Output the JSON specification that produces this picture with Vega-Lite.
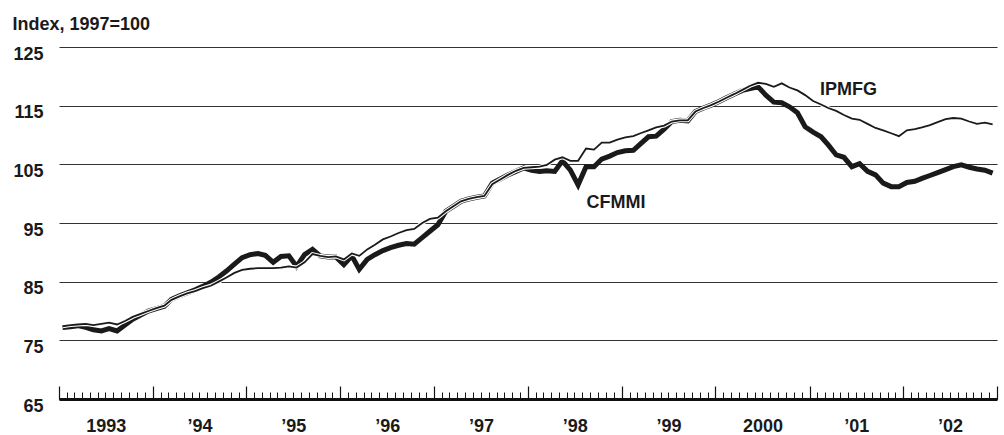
{
  "$schema": "https://vega.github.io/schema/vega-lite/v6.json",
  "autosize": "none",
  "width": 938,
  "height": 352,
  "padding": {"left": 59, "top": 47, "right": 7, "bottom": 36},
  "background": "white",
  "config": {"view": {"stroke": null}, "font": "Liberation Sans"},
  "data": {"values": [
    {"date":"1993-01-15T00:00:00","CFMMI":77.2,"IPMFG":77.4},{"date":"1993-02-15T00:00:00","CFMMI":77.3,"IPMFG":77.6},{"date":"1993-03-15T00:00:00","CFMMI":77.5,"IPMFG":77.7},{"date":"1993-04-15T00:00:00","CFMMI":77.2,"IPMFG":77.8},{"date":"1993-05-15T00:00:00","CFMMI":76.8,"IPMFG":77.6},{"date":"1993-06-15T00:00:00","CFMMI":76.6,"IPMFG":77.8},{"date":"1993-07-15T00:00:00","CFMMI":77.0,"IPMFG":78.0},{"date":"1993-08-15T00:00:00","CFMMI":76.6,"IPMFG":77.7},{"date":"1993-09-15T00:00:00","CFMMI":77.6,"IPMFG":78.3},{"date":"1993-10-15T00:00:00","CFMMI":78.6,"IPMFG":79.0},{"date":"1993-11-15T00:00:00","CFMMI":79.3,"IPMFG":79.5},{"date":"1993-12-15T00:00:00","CFMMI":80.0,"IPMFG":80.0},
    {"date":"1994-01-15T00:00:00","CFMMI":80.4,"IPMFG":80.5},{"date":"1994-02-15T00:00:00","CFMMI":80.8,"IPMFG":80.9},{"date":"1994-03-15T00:00:00","CFMMI":82.0,"IPMFG":81.9},{"date":"1994-04-15T00:00:00","CFMMI":82.6,"IPMFG":82.5},{"date":"1994-05-15T00:00:00","CFMMI":83.1,"IPMFG":83.0},{"date":"1994-06-15T00:00:00","CFMMI":83.6,"IPMFG":83.4},{"date":"1994-07-15T00:00:00","CFMMI":84.2,"IPMFG":83.9},{"date":"1994-08-15T00:00:00","CFMMI":84.9,"IPMFG":84.3},{"date":"1994-09-15T00:00:00","CFMMI":85.8,"IPMFG":85.0},{"date":"1994-10-15T00:00:00","CFMMI":86.8,"IPMFG":85.7},{"date":"1994-11-15T00:00:00","CFMMI":88.0,"IPMFG":86.5},{"date":"1994-12-15T00:00:00","CFMMI":89.1,"IPMFG":87.0},
    {"date":"1995-01-15T00:00:00","CFMMI":89.6,"IPMFG":87.2},{"date":"1995-02-15T00:00:00","CFMMI":89.8,"IPMFG":87.3},{"date":"1995-03-15T00:00:00","CFMMI":89.5,"IPMFG":87.3},{"date":"1995-04-15T00:00:00","CFMMI":88.3,"IPMFG":87.3},{"date":"1995-05-15T00:00:00","CFMMI":89.3,"IPMFG":87.4},{"date":"1995-06-15T00:00:00","CFMMI":89.4,"IPMFG":87.6},{"date":"1995-07-15T00:00:00","CFMMI":87.6,"IPMFG":87.4},{"date":"1995-08-15T00:00:00","CFMMI":89.6,"IPMFG":88.3},{"date":"1995-09-15T00:00:00","CFMMI":90.5,"IPMFG":89.7},{"date":"1995-10-15T00:00:00","CFMMI":89.4,"IPMFG":89.4},{"date":"1995-11-15T00:00:00","CFMMI":89.2,"IPMFG":89.2},{"date":"1995-12-15T00:00:00","CFMMI":89.2,"IPMFG":89.3},
    {"date":"1996-01-15T00:00:00","CFMMI":87.9,"IPMFG":88.8},{"date":"1996-02-15T00:00:00","CFMMI":89.4,"IPMFG":89.8},{"date":"1996-03-15T00:00:00","CFMMI":87.1,"IPMFG":89.4},{"date":"1996-04-15T00:00:00","CFMMI":88.8,"IPMFG":90.5},{"date":"1996-05-15T00:00:00","CFMMI":89.6,"IPMFG":91.3},{"date":"1996-06-15T00:00:00","CFMMI":90.3,"IPMFG":92.2},{"date":"1996-07-15T00:00:00","CFMMI":90.8,"IPMFG":92.7},{"date":"1996-08-15T00:00:00","CFMMI":91.2,"IPMFG":93.3},{"date":"1996-09-15T00:00:00","CFMMI":91.5,"IPMFG":93.8},{"date":"1996-10-15T00:00:00","CFMMI":91.4,"IPMFG":94.0},{"date":"1996-11-15T00:00:00","CFMMI":92.5,"IPMFG":95.0},{"date":"1996-12-15T00:00:00","CFMMI":93.6,"IPMFG":95.7},
    {"date":"1997-01-15T00:00:00","CFMMI":94.7,"IPMFG":95.9},{"date":"1997-02-15T00:00:00","CFMMI":97.0,"IPMFG":97.0},{"date":"1997-03-15T00:00:00","CFMMI":97.8,"IPMFG":97.8},{"date":"1997-04-15T00:00:00","CFMMI":98.7,"IPMFG":98.7},{"date":"1997-05-15T00:00:00","CFMMI":99.1,"IPMFG":99.1},{"date":"1997-06-15T00:00:00","CFMMI":99.4,"IPMFG":99.4},{"date":"1997-07-15T00:00:00","CFMMI":99.6,"IPMFG":99.6},{"date":"1997-08-15T00:00:00","CFMMI":101.8,"IPMFG":101.6},{"date":"1997-09-15T00:00:00","CFMMI":102.5,"IPMFG":102.4},{"date":"1997-10-15T00:00:00","CFMMI":103.2,"IPMFG":103.2},{"date":"1997-11-15T00:00:00","CFMMI":103.8,"IPMFG":103.9},{"date":"1997-12-15T00:00:00","CFMMI":104.4,"IPMFG":104.4},
    {"date":"1998-01-15T00:00:00","CFMMI":104.0,"IPMFG":104.5},{"date":"1998-02-15T00:00:00","CFMMI":103.8,"IPMFG":104.6},{"date":"1998-03-15T00:00:00","CFMMI":103.9,"IPMFG":104.9},{"date":"1998-04-15T00:00:00","CFMMI":103.8,"IPMFG":105.8},{"date":"1998-05-15T00:00:00","CFMMI":105.6,"IPMFG":106.2},{"date":"1998-06-15T00:00:00","CFMMI":104.0,"IPMFG":105.6},{"date":"1998-07-15T00:00:00","CFMMI":101.5,"IPMFG":105.6},{"date":"1998-08-15T00:00:00","CFMMI":104.6,"IPMFG":107.7},{"date":"1998-09-15T00:00:00","CFMMI":104.6,"IPMFG":107.5},{"date":"1998-10-15T00:00:00","CFMMI":105.9,"IPMFG":108.7},{"date":"1998-11-15T00:00:00","CFMMI":106.4,"IPMFG":108.7},{"date":"1998-12-15T00:00:00","CFMMI":107.0,"IPMFG":109.2},
    {"date":"1999-01-15T00:00:00","CFMMI":107.3,"IPMFG":109.6},{"date":"1999-02-15T00:00:00","CFMMI":107.4,"IPMFG":109.8},{"date":"1999-03-15T00:00:00","CFMMI":108.5,"IPMFG":110.3},{"date":"1999-04-15T00:00:00","CFMMI":109.7,"IPMFG":110.8},{"date":"1999-05-15T00:00:00","CFMMI":109.8,"IPMFG":111.3},{"date":"1999-06-15T00:00:00","CFMMI":111.0,"IPMFG":111.6},{"date":"1999-07-15T00:00:00","CFMMI":112.3,"IPMFG":112.3},{"date":"1999-08-15T00:00:00","CFMMI":112.5,"IPMFG":112.5},{"date":"1999-09-15T00:00:00","CFMMI":112.4,"IPMFG":112.5},{"date":"1999-10-15T00:00:00","CFMMI":114.0,"IPMFG":114.0},{"date":"1999-11-15T00:00:00","CFMMI":114.6,"IPMFG":114.6},{"date":"1999-12-15T00:00:00","CFMMI":115.1,"IPMFG":115.1},
    {"date":"2000-01-15T00:00:00","CFMMI":115.7,"IPMFG":115.7},{"date":"2000-02-15T00:00:00","CFMMI":116.4,"IPMFG":116.4},{"date":"2000-03-15T00:00:00","CFMMI":117.0,"IPMFG":117.0},{"date":"2000-04-15T00:00:00","CFMMI":117.6,"IPMFG":117.7},{"date":"2000-05-15T00:00:00","CFMMI":117.9,"IPMFG":118.4},{"date":"2000-06-15T00:00:00","CFMMI":118.2,"IPMFG":118.9},{"date":"2000-07-15T00:00:00","CFMMI":116.8,"IPMFG":118.7},{"date":"2000-08-15T00:00:00","CFMMI":115.6,"IPMFG":118.2},{"date":"2000-09-15T00:00:00","CFMMI":115.5,"IPMFG":118.8},{"date":"2000-10-15T00:00:00","CFMMI":114.8,"IPMFG":118.1},{"date":"2000-11-15T00:00:00","CFMMI":113.8,"IPMFG":117.6},{"date":"2000-12-15T00:00:00","CFMMI":111.4,"IPMFG":116.8},
    {"date":"2001-01-15T00:00:00","CFMMI":110.5,"IPMFG":115.8},{"date":"2001-02-15T00:00:00","CFMMI":109.7,"IPMFG":115.2},{"date":"2001-03-15T00:00:00","CFMMI":108.3,"IPMFG":114.6},{"date":"2001-04-15T00:00:00","CFMMI":106.6,"IPMFG":114.1},{"date":"2001-05-15T00:00:00","CFMMI":106.2,"IPMFG":113.4},{"date":"2001-06-15T00:00:00","CFMMI":104.6,"IPMFG":112.8},{"date":"2001-07-15T00:00:00","CFMMI":105.1,"IPMFG":112.6},{"date":"2001-08-15T00:00:00","CFMMI":103.8,"IPMFG":111.9},{"date":"2001-09-15T00:00:00","CFMMI":103.2,"IPMFG":111.2},{"date":"2001-10-15T00:00:00","CFMMI":101.8,"IPMFG":110.8},{"date":"2001-11-15T00:00:00","CFMMI":101.2,"IPMFG":110.3},{"date":"2001-12-15T00:00:00","CFMMI":101.2,"IPMFG":109.8},
    {"date":"2002-01-15T00:00:00","CFMMI":101.9,"IPMFG":110.8},{"date":"2002-02-15T00:00:00","CFMMI":102.1,"IPMFG":111.0},{"date":"2002-03-15T00:00:00","CFMMI":102.6,"IPMFG":111.3},{"date":"2002-04-15T00:00:00","CFMMI":103.1,"IPMFG":111.7},{"date":"2002-05-15T00:00:00","CFMMI":103.6,"IPMFG":112.2},{"date":"2002-06-15T00:00:00","CFMMI":104.1,"IPMFG":112.7},{"date":"2002-07-15T00:00:00","CFMMI":104.6,"IPMFG":112.9},{"date":"2002-08-15T00:00:00","CFMMI":104.9,"IPMFG":112.8},{"date":"2002-09-15T00:00:00","CFMMI":104.5,"IPMFG":112.3},{"date":"2002-10-15T00:00:00","CFMMI":104.2,"IPMFG":111.9},{"date":"2002-11-15T00:00:00","CFMMI":104.0,"IPMFG":112.1},{"date":"2002-12-15T00:00:00","CFMMI":103.5,"IPMFG":111.8}
  ]},
  "layer": [
    {
      "mark": {"type": "line", "color": "#1a1a1a", "strokeWidth": 5, "strokeJoin": "miter", "strokeMiterLimit": 3},
      "encoding": {
        "x": {"field": "date", "type": "temporal",
          "scale": {"domain": [{"year": 1993, "month": 1, "date": 1}, {"year": 2003, "month": 1, "date": 1}]},
          "axis": {"orient": "bottom", "offset": -7, "title": null, "labels": false, "grid": false, "domain": false,
                   "ticks": true, "tickCount": {"interval": "month", "step": 1}, "tickSize": 7, "tickColor": "#111", "tickWidth": 1}},
        "y": {"field": "CFMMI", "type": "quantitative",
          "scale": {"domain": [65, 125], "nice": false, "zero": false},
          "axis": {"title": "Index, 1997=100", "titleAngle": 0, "titleAlign": "left", "titleBaseline": "alphabetic",
                   "titleX": -47, "titleY": -18, "titleFontSize": 18, "titleFontWeight": "bold", "titleColor": "#1a1a1a",
                   "values": [65, 75, 85, 95, 105, 115, 125], "domain": false, "ticks": false,
                   "labelFontSize": 18, "labelFontWeight": "bold", "labelColor": "#1a1a1a", "labelPadding": 16,
                   "labelBaseline": "top", "labelAlign": "right", "labelOffset": -2,
                   "grid": true, "gridColor": "#333", "gridWidth": 1.2}}
      }
    },
    {
      "mark": {"type": "line", "color": "white", "strokeWidth": 4},
      "encoding": {
        "x": {"field": "date", "type": "temporal",
          "axis": {"orient": "bottom", "offset": -13, "title": null, "labels": false, "grid": false, "domain": false,
                   "ticks": true, "tickCount": {"interval": "year", "step": 1}, "tickSize": 13, "tickColor": "#111", "tickWidth": 1.2}},
        "y": {"field": "IPMFG", "type": "quantitative", "axis": null}
      }
    },
    {
      "mark": {"type": "line", "color": "#1a1a1a", "strokeWidth": 1.8},
      "encoding": {
        "x": {"field": "date", "type": "temporal",
          "axis": {"orient": "bottom", "offset": 0, "title": null, "grid": false, "domain": true, "domainColor": "#111", "domainWidth": 3, "ticks": false,
                   "values": [{"year": 1993, "month": 7, "date": 2}, {"year": 1994, "month": 7, "date": 2}, {"year": 1995, "month": 7, "date": 2}, {"year": 1996, "month": 7, "date": 2}, {"year": 1997, "month": 7, "date": 2}, {"year": 1998, "month": 7, "date": 2}, {"year": 1999, "month": 7, "date": 2}, {"year": 2000, "month": 7, "date": 2}, {"year": 2001, "month": 7, "date": 2}, {"year": 2002, "month": 7, "date": 2}],
                   "labelExpr": "(year(datum.value) == 1993 || year(datum.value) == 2000) ? timeFormat(datum.value, '%Y') : '\u2019' + timeFormat(datum.value, '%y')",
                   "labelFontSize": 18, "labelFontWeight": "bold", "labelColor": "#1a1a1a", "labelPadding": 18,
                   "labelAlign": "center", "labelBaseline": "top", "labelFlush": false, "labelOverlap": false}},
        "y": {"field": "IPMFG", "type": "quantitative", "axis": null}
      }
    },
    {
      "data": {"values": [
        {"date": "1998-08-17T00:00:00", "v": 97.5, "t": "CFMMI"},
        {"date": "2001-02-11T00:00:00", "v": 116.8, "t": "IPMFG"}
      ]},
      "mark": {"type": "text", "align": "left", "baseline": "alphabetic", "fontSize": 18, "fontWeight": "bold", "color": "#1a1a1a"},
      "encoding": {
        "x": {"field": "date", "type": "temporal", "axis": null},
        "y": {"field": "v", "type": "quantitative", "axis": null},
        "text": {"field": "t"}
      }
    }
  ],
  "resolve": {"axis": {"x": "independent", "y": "independent"}}
}
